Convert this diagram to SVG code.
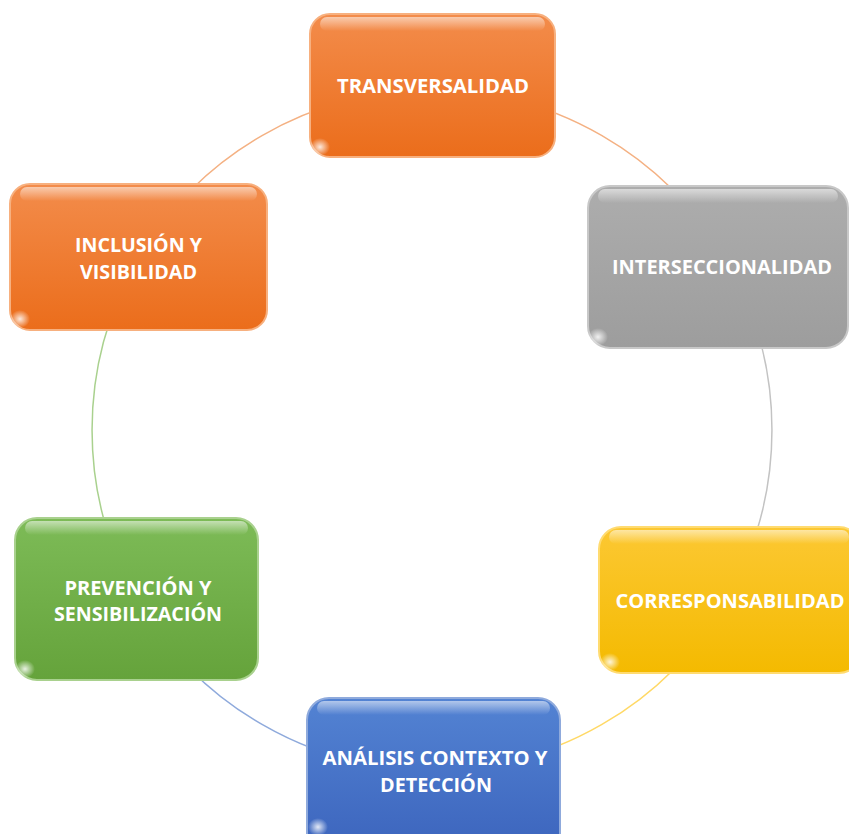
<svg xmlns="http://www.w3.org/2000/svg" width="849" height="834" viewBox="0 0 849 834">
<defs>
<linearGradient id="gO" x1="0" y1="0" x2="0" y2="1"><stop offset="0" stop-color="#F38C4B"/><stop offset="1" stop-color="#EB6D1B"/></linearGradient>
<linearGradient id="gG" x1="0" y1="0" x2="0" y2="1"><stop offset="0" stop-color="#ADADAD"/><stop offset="1" stop-color="#9D9D9D"/></linearGradient>
<linearGradient id="gY" x1="0" y1="0" x2="0" y2="1"><stop offset="0" stop-color="#FCC833"/><stop offset="1" stop-color="#F4BA00"/></linearGradient>
<linearGradient id="gB" x1="0" y1="0" x2="0" y2="1"><stop offset="0" stop-color="#5383D3"/><stop offset="1" stop-color="#3B63BC"/></linearGradient>
<linearGradient id="gN" x1="0" y1="0" x2="0" y2="1"><stop offset="0" stop-color="#7DBB57"/><stop offset="1" stop-color="#65A33B"/></linearGradient>
<linearGradient id="gl" x1="0" y1="0" x2="0" y2="1"><stop offset="0" stop-color="#fff" stop-opacity="0.55"/><stop offset="1" stop-color="#fff" stop-opacity="0"/></linearGradient>
<radialGradient id="spot"><stop offset="0" stop-color="#fff" stop-opacity="0.85"/><stop offset="1" stop-color="#fff" stop-opacity="0"/></radialGradient>
</defs>
<style>
.arc{fill:none;stroke-width:1.5}
.lbl{font-family:"Open Sans","Liberation Sans",sans-serif;font-weight:bold;font-size:19px;fill:#fff;text-anchor:middle}
.hl{fill:url(#gl)}
.sp{fill:url(#spot)}
</style>
<rect width="849" height="834" fill="#fff"/>
<g id="connectors">
<path class="arc" stroke="#F4B183" d="M 432 90 A 340 340 0 0 1 726.4 260"/>
<path class="arc" stroke="#C3C3C3" d="M 726.4 260 A 340 340 0 0 1 726.4 600"/>
<path class="arc" stroke="#FFD966" d="M 726.4 600 A 340 340 0 0 1 432 770"/>
<path class="arc" stroke="#8FAADC" d="M 432 770 A 340 340 0 0 1 137.6 600"/>
<path class="arc" stroke="#A9D18E" d="M 137.6 600 A 340 340 0 0 1 137.6 260"/>
<path class="arc" stroke="#F4B183" d="M 137.6 260 A 340 340 0 0 1 432 90"/>
</g>
<g id="transversalidad">
<rect x="310" y="14" width="245" height="143" rx="20" fill="url(#gO)" stroke="#F7B07F" stroke-width="2"/>
<rect x="320" y="17" width="225" height="14" rx="7" class="hl"/>
<ellipse cx="320" cy="147" rx="10" ry="9" class="sp"/>
<text class="lbl" x="433" y="93" textLength="192" lengthAdjust="spacingAndGlyphs">TRANSVERSALIDAD</text>
</g>
<g id="interseccionalidad">
<rect x="588" y="186" width="260" height="162" rx="22" fill="url(#gG)" stroke="#C8C8C8" stroke-width="2"/>
<rect x="598" y="189" width="240" height="14" rx="7" class="hl"/>
<ellipse cx="598" cy="337" rx="10" ry="9" class="sp"/>
<text class="lbl" x="722" y="274" textLength="220" lengthAdjust="spacingAndGlyphs">INTERSECCIONALIDAD</text>
</g>
<g id="corresponsabilidad">
<rect x="599" y="527" width="262" height="146" rx="22" fill="url(#gY)" stroke="#FFDB70" stroke-width="2"/>
<rect x="609" y="530" width="240" height="14" rx="7" class="hl"/>
<ellipse cx="610" cy="662" rx="10" ry="9" class="sp"/>
<text class="lbl" x="730" y="608" textLength="229" lengthAdjust="spacingAndGlyphs">CORRESPONSABILIDAD</text>
</g>
<g id="analisis">
<rect x="307" y="698" width="253" height="160" rx="22" fill="url(#gB)" stroke="#8FAADC" stroke-width="2"/>
<rect x="317" y="701" width="233" height="14" rx="7" class="hl"/>
<ellipse cx="318" cy="827" rx="10" ry="9" class="sp"/>
<text class="lbl" x="435" y="765" textLength="225" lengthAdjust="spacingAndGlyphs">ANÁLISIS CONTEXTO Y</text>
<text class="lbl" x="436" y="792" textLength="112" lengthAdjust="spacingAndGlyphs">DETECCIÓN</text>
</g>
<g id="prevencion">
<rect x="15" y="518" width="243" height="162" rx="22" fill="url(#gN)" stroke="#A9D18E" stroke-width="2"/>
<rect x="25" y="521" width="223" height="14" rx="7" class="hl"/>
<ellipse cx="25" cy="669" rx="10" ry="9" class="sp"/>
<text class="lbl" x="138" y="595" textLength="147" lengthAdjust="spacingAndGlyphs">PREVENCIÓN Y</text>
<text class="lbl" x="138" y="621" textLength="168" lengthAdjust="spacingAndGlyphs">SENSIBILIZACIÓN</text>
</g>
<g id="inclusion">
<rect x="10" y="184" width="257" height="146" rx="20" fill="url(#gO)" stroke="#F7B07F" stroke-width="2"/>
<rect x="20" y="187" width="237" height="14" rx="7" class="hl"/>
<ellipse cx="20" cy="319" rx="10" ry="9" class="sp"/>
<text class="lbl" x="138.5" y="252" textLength="127" lengthAdjust="spacingAndGlyphs">INCLUSIÓN Y</text>
<text class="lbl" x="138.5" y="279" textLength="117" lengthAdjust="spacingAndGlyphs">VISIBILIDAD</text>
</g>
</svg>
